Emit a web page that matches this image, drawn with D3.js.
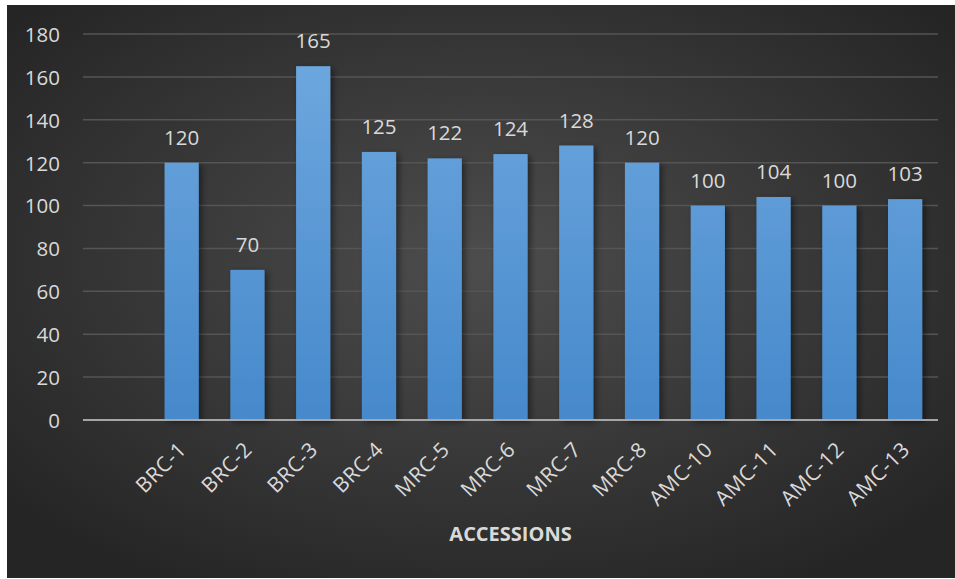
<!DOCTYPE html>
<html>
<head>
<meta charset="utf-8">
<script src="https://cdn.jsdelivr.net/npm/d3@7"></script>
<style>
  body { margin: 0; background: #fff; }
  svg { display: block; }
</style>
</head>
<body>
<div id="chart"></div>
<script>
    // slot 0 is empty in the original chart
    var categories = ["", "BRC-1", "BRC-2", "BRC-3", "BRC-4", "MRC-5", "MRC-6", "MRC-7", "MRC-8", "AMC-10", "AMC-11", "AMC-12", "AMC-13"];
    var values = [null, 120, 70, 165, 125, 122, 124, 128, 120, 100, 104, 100, 103];
    var yTicks = [0, 20, 40, 60, 80, 100, 120, 140, 160, 180];
    var xTitle = "ACCESSIONS";

    var width = 955, height = 579;
    var margin = {left: 83, right: 17, top: 34, bottom: 159};
    var font = "'Open Sans', 'DejaVu Sans', sans-serif";

    var svg = d3.select("#chart").append("svg")
        .attr("width", width)
        .attr("height", height);

    var defs = svg.append("defs");
    var bg = defs.append("radialGradient")
        .attr("id", "bg_grad")
        .attr("cx", "50%").attr("cy", "45%").attr("r", "65%");
    bg.append("stop").attr("offset", "0%").attr("stop-color", "#4d4d4d");
    bg.append("stop").attr("offset", "100%").attr("stop-color", "#252525");

    var barGrad = defs.append("linearGradient")
        .attr("id", "bar_grad")
        .attr("gradientUnits", "userSpaceOnUse")
        .attr("x1", 0).attr("y1", margin.top).attr("x2", 0).attr("y2", height - margin.bottom);
    barGrad.append("stop").attr("offset", "0%").attr("stop-color", "#70a9e0");
    barGrad.append("stop").attr("offset", "100%").attr("stop-color", "#4689cb");

    var shadow = defs.append("filter")
        .attr("id", "bar_shadow")
        .attr("x", "-20%").attr("y", "-5%").attr("width", "160%").attr("height", "115%");
    shadow.append("feDropShadow")
        .attr("dx", 3).attr("dy", 2).attr("stdDeviation", 3)
        .attr("flood-color", "#000").attr("flood-opacity", 0.45);

    // background panel
    svg.append("rect")
        .attr("x", 7).attr("y", 5)
        .attr("width", width - 7).attr("height", height - 6)
        .attr("fill", "url(#bg_grad)");

    var x = d3.scaleBand()
        .domain(categories.map(function (d, i) { return i; }))
        .range([margin.left, width - margin.right])
        .paddingInner(0.48)
        .paddingOuter(0.24);

    var y = d3.scaleLinear()
        .domain([0, 180])
        .range([height - margin.bottom, margin.top]);

    // gridlines
    svg.append("g")
        .attr("id", "grid")
        .selectAll("line")
        .data(yTicks.slice(1))
        .enter()
        .append("line")
        .attr("x1", margin.left)
        .attr("x2", width - margin.right)
        .attr("y1", function (d) { return y(d); })
        .attr("y2", function (d) { return y(d); })
        .attr("stroke", "#555555")
        .attr("stroke-width", 1.5);

    // y tick labels
    var yAxis = svg.append("g")
        .attr("transform", "translate(" + (margin.left - 23) + ",0)")
        .call(d3.axisLeft(y).tickValues(yTicks).tickSize(0).tickPadding(0));
    yAxis.select(".domain").remove();
    yAxis.selectAll("text")
        .attr("fill", "#d9d9d9")
        .attr("font-family", font)
        .attr("font-size", 20.5)
        .attr("dy", "0.36em");

    // bars
    var bars = svg.append("g")
        .attr("id", "bars")
        .selectAll("g")
        .data(values);
    bars.enter()
        .append("g")
        .attr("class", "bar")
        .each(function (d, i) {
            if (d == null) return;
            var g = d3.select(this);
            g.append("rect")
                .attr("x", x(i))
                .attr("y", y(d))
                .attr("width", x.bandwidth())
                .attr("height", y(0) - y(d))
                .attr("fill", "url(#bar_grad)")
                .attr("filter", "url(#bar_shadow)");
            g.append("text")
                .attr("x", x(i) + x.bandwidth() / 2)
                .attr("y", y(d) - 18)
                .attr("text-anchor", "middle")
                .attr("fill", "#d9d9d9")
                .attr("font-family", font)
                .attr("font-size", 20.5)
                .text(d);
        });

    // baseline
    svg.append("line")
        .attr("x1", margin.left)
        .attr("x2", width - margin.right)
        .attr("y1", y(0))
        .attr("y2", y(0))
        .attr("stroke", "#a6a6a6")
        .attr("stroke-width", 2);

    // x labels, rotated
    svg.append("g")
        .attr("id", "xlabels")
        .selectAll("text")
        .data(categories)
        .enter()
        .append("text")
        .attr("transform", function (d, i) {
            var cx = x(i) + x.bandwidth() / 2 + 6;
            return "translate(" + cx + "," + (y(0) + 31) + ") rotate(-45)";
        })
        .attr("text-anchor", "end")
        .attr("fill", "#d9d9d9")
        .attr("font-family", font)
        .attr("font-size", 21)
        .attr("letter-spacing", 0.5)
        .text(function (d) { return d; });

    svg.append("text")
        .attr("x", (margin.left + width - margin.right) / 2)
        .attr("y", 541)
        .attr("text-anchor", "middle")
        .attr("fill", "#d9d9d9")
        .attr("font-family", font)
        .attr("font-weight", "bold")
        .attr("font-size", 20)
        .text(xTitle);
</script>
</body>
</html>
